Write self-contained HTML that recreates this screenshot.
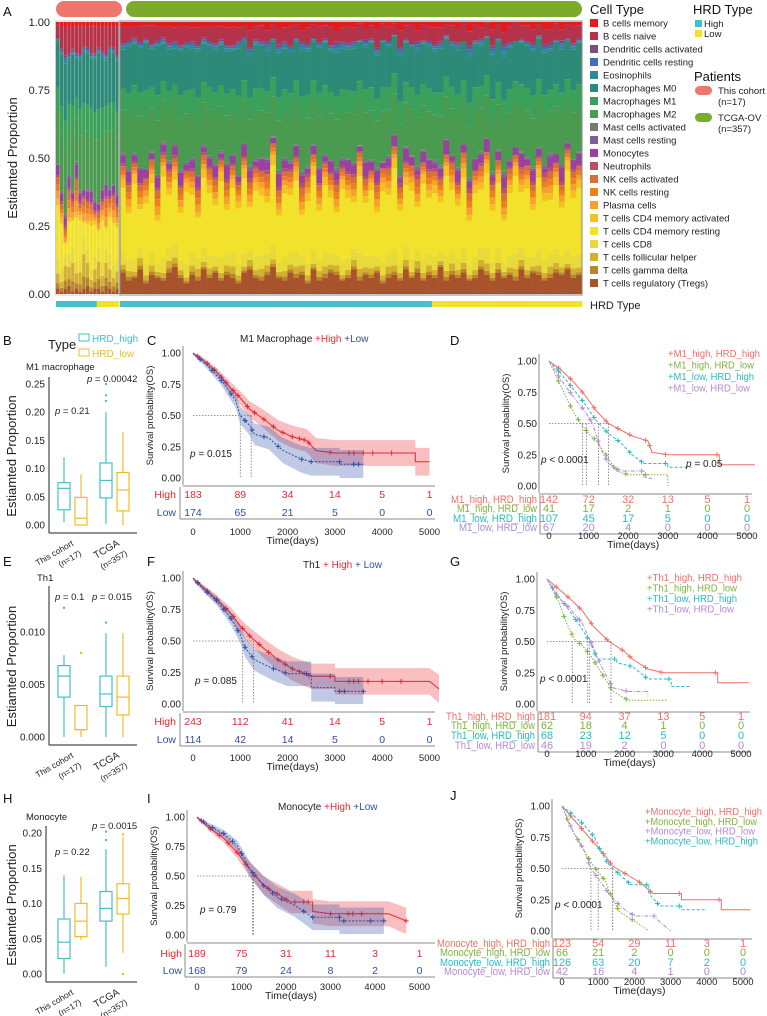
<!DOCTYPE html>
<html><head><meta charset="utf-8">
<style>
html,body{margin:0;padding:0;background:#fff;}
svg{display:block;font-family:"Liberation Sans",Arial,sans-serif;}
</style></head>
<body>
<svg id="fig" width="767" height="1016" viewBox="0 0 767 1016" xmlns="http://www.w3.org/2000/svg"></svg>
<script>
// ===== Panel A data =====
const cellTypes=["B cells memory","B cells naive","Dendritic cells activated","Dendritic cells resting","Eosinophils","Macrophages M0","Macrophages M1","Macrophages M2","Mast cells activated","Mast cells resting","Monocytes","Neutrophils","NK cells activated","NK cells resting","Plasma cells","T cells CD4 memory activated","T cells CD4 memory resting","T cells CD8","T cells follicular helper","T cells gamma delta","T cells regulatory (Tregs)"];
const cellColors=["#e41a1c","#b5334a","#7a4f7a","#3f6fb5","#2f8b9a","#2e8a78","#3aa05a","#4a9a50","#6f8070","#7a5f9a","#9b3fa0","#b8506a","#d9703a","#f07f20","#f5a030","#f5c020","#f2e22c","#e8da3a","#d4b030","#b8862a","#a8532c"];
const cohortTreg=[.02,.01,.02,.03,.01,.02,.01,.02,.03,.01,.02,.02,.01,.03,.02,.01,.02];
const cohortLow=[.08,.05,.12,.1,.15,.08,.1,.18,.12,.06,.1,.14,.08,.12,.1,.07,.09];
const cohortCd4=[.25,.22,.05,.15,.12,.2,.18,.07,.12,.2,.15,.08,.2,.1,.18,.2,.15];
const cohortOrange=[.08,.05,.05,.1,.06,.12,.04,.08,.07,.06,.03,.06,.05,.1,.05,.08,.06];
const cohortMono=[.04,.03,.03,.04,.02,.05,.03,.02,.03,.04,.03,.02,.03,.04,.02,.03,.03];
const cohortMac=[.45,.5,.55,.42,.5,.38,.48,.5,.5,.48,.52,.55,.48,.45,.5,.48,.48];
const cohortBn=[.05,.08,.1,.1,.08,.1,.1,.07,.08,.1,.1,.08,.09,.1,.07,.08,.1];
const cohortHRD=["H","H","H","H","H","H","H","H","H","H","H","L","L","L","L","L","L"];
const tcgaTreg=[.08,.05,.06,.09,.04,.07,.06,.05,.08,.1,.06,.04,.07,.05,.09,.06,.08,.05,.07,.06,.04,.08,.09,.06,.05,.07,.1,.06,.05,.08,.06,.07,.04,.09,.05,.06,.08,.07,.05,.06,.09,.05,.07,.06,.08,.04,.06,.07,.05,.09,.06,.08,.05,.07,.06,.1,.05,.07,.06,.08,.05,.06,.09,.07,.05,.08,.06,.07,.05,.09,.06,.08,.07,.05,.06,.08,.07,.09,.06,.07];
const tcgaLow=[.04,.05,.03,.06,.04,.05,.03,.04,.06,.05,.04,.03,.05,.06,.04,.05,.03,.04,.05,.06,.04,.03,.05,.04,.06,.05,.04,.03,.05,.04,.06,.05,.04,.03,.05,.06,.04,.05,.03,.04,.05,.06,.04,.05,.03,.04,.06,.05,.04,.05,.03,.06,.04,.05,.04,.03,.05,.06,.04,.05,.03,.04,.05,.06,.04,.05,.03,.04,.06,.05,.04,.03,.05,.04,.06,.05,.04,.03,.05,.04];
const tcgaCd4=[.3,.22,.35,.18,.28,.32,.2,.38,.25,.3,.22,.34,.27,.19,.33,.29,.24,.36,.21,.3,.26,.35,.2,.31,.28,.24,.37,.22,.3,.27,.33,.19,.29,.35,.23,.31,.26,.2,.34,.28,.22,.36,.25,.3,.21,.33,.27,.38,.24,.29,.32,.2,.35,.26,.3,.23,.37,.28,.25,.33,.21,.3,.27,.35,.24,.31,.2,.29,.36,.26,.32,.22,.34,.28,.25,.3,.23,.37,.27,.31];
const tcgaOrange=[.05,.08,.04,.07,.06,.05,.09,.04,.06,.05,.07,.04,.06,.08,.05,.06,.07,.04,.08,.05,.06,.04,.07,.05,.06,.08,.04,.07,.05,.06,.05,.08,.06,.04,.07,.05,.06,.08,.04,.06,.07,.05,.06,.04,.08,.05,.07,.04,.06,.05,.06,.08,.04,.07,.05,.06,.04,.07,.05,.06,.08,.05,.06,.04,.07,.05,.08,.06,.04,.06,.05,.07,.04,.06,.08,.05,.06,.04,.07,.05];
const tcgaMono=[.03,.04,.02,.05,.03,.02,.04,.03,.02,.03,.05,.02,.03,.04,.02,.03,.04,.02,.05,.03,.02,.04,.03,.02,.04,.03,.02,.05,.03,.02,.04,.03,.02,.03,.05,.02,.04,.03,.02,.04,.03,.02,.05,.03,.04,.02,.03,.04,.02,.05,.03,.02,.04,.03,.02,.03,.05,.02,.04,.03,.02,.04,.03,.05,.02,.03,.04,.02,.03,.05,.02,.04,.03,.02,.04,.03,.05,.02,.03,.04];
const tcgaMac=[.38,.45,.4,.44,.46,.38,.47,.36,.41,.35,.44,.42,.4,.45,.37,.4,.42,.39,.41,.38,.46,.37,.4,.42,.41,.39,.35,.43,.4,.4,.38,.44,.42,.38,.44,.41,.4,.42,.4,.4,.42,.38,.41,.43,.41,.44,.4,.36,.43,.38,.4,.42,.39,.41,.4,.43,.37,.4,.43,.38,.44,.42,.39,.37,.43,.4,.42,.41,.39,.4,.41,.42,.4,.41,.37,.41,.42,.37,.4,.4];
const tcgaBn=[.06,.05,.04,.06,.05,.07,.05,.04,.06,.05,.07,.06,.05,.06,.04,.05,.06,.05,.06,.07,.05,.04,.06,.05,.06,.04,.05,.06,.05,.07,.05,.04,.06,.05,.06,.05,.07,.04,.05,.06,.05,.06,.04,.05,.07,.06,.05,.04,.06,.05,.07,.04,.06,.05,.06,.05,.04,.06,.05,.07,.05,.06,.04,.05,.06,.05,.04,.06,.07,.05,.06,.05,.04,.06,.05,.06,.04,.05,.06,.05];
const tcgaLowStart=54; // index where HRD_low begins in TCGA group
const yTicksA=[0,.25,.5,.75,1];

// ===== Boxplot data: [min, q1, median, q3, max] =====
const boxB_high=[[.005,.027,.065,.075,.12],[.002,.048,.079,.11,.20]];
const boxB_low=[[0,0,.012,.049,.09],[0,.025,.062,.093,.165]];
const boxB_highOut=[[],[.22,.23,.25]];
const boxB_lowOut=[[],[]];
const boxB_ticks=[0,.05,.1,.15,.2,.25];
const boxE_high=[[0,.0038,.0058,.0068,.0078],[0,.0029,.0041,.0058,.0099]];
const boxE_low=[[0,.0007,.0007,.003,.003],[0,.0021,.0038,.0058,.0099]];
const boxE_highOut=[[.0123],[.0109]];
const boxE_lowOut=[[.008],[]];
const boxE_ticks=[0,.005,.01];
const boxH_high=[[0,.022,.045,.078,.14],[.01,.075,.093,.117,.177]];
const boxH_low=[[.048,.053,.075,.1,.138],[.03,.085,.107,.128,.195]];
const boxH_highOut=[[],[.19,.202]];
const boxH_lowOut=[[],[0,.198]];
const boxH_ticks=[0,.05,.1,.15,.2];

// ===== KM data =====
const kmTicks=[0,1000,2000,3000,4000,5000];
const survTicks=[0,.25,.5,.75,1];
const C_highT=[0,200,500,800,1000,1200,1500,1800,2100,2400,2600,3000,4700,5000];
const C_highS=[1,.95,.85,.72,.64,.55,.47,.38,.33,.30,.22,.20,.13,.13];
const C_highCens=[100,300,450,600,700,850,950,1150,1300,1500,1700,1900,2100,2250,2350,2450,2900,3300,3400,3600,3800,4200];
const C_lowT=[0,300,600,900,1000,1200,1300,1600,1900,2300,2500,3100,3600];
const C_lowS=[1,.9,.78,.62,.5,.42,.35,.32,.22,.15,.13,.11,.11];
const C_lowCens=[150,400,600,800,1100,1250,1500,1800,2300,2500,3100,3400,3500];
const C_risk=[[183,89,34,14,5,1],[174,65,21,5,0,0]];
const F_highT=[0,200,500,800,1000,1200,1500,1800,2100,2500,3000,5000,5200];
const F_highS=[1,.93,.83,.72,.62,.54,.44,.35,.28,.22,.18,.18,.12];
const F_highCens=[100,300,500,700,850,1050,1200,1400,1600,1800,1950,2100,2250,2350,2450,2900,3300,3400,3500,3700,4000,4400];
const F_lowT=[0,200,500,800,1000,1100,1300,1700,2000,2500,3000,3600];
const F_lowS=[1,.92,.82,.68,.55,.45,.35,.28,.24,.13,.1,.1];
const F_lowCens=[100,300,500,650,800,950,1100,1250,1700,1950,2400,3100,3200,3600];
const F_risk=[[243,112,41,14,5,1],[114,42,14,5,0,0]];
const I_highT=[0,300,600,900,1200,1500,1800,2100,2600,3000,4300,4700];
const I_highS=[1,.9,.82,.7,.55,.42,.35,.28,.2,.18,.18,.12];
const I_highCens=[100,300,500,700,900,1100,1300,1600,1800,2000,2200,2400,2500,3000,3400,3500,3700,4700];
const I_lowT=[0,300,600,900,1200,1500,1800,2200,2600,3200,4200];
const I_lowS=[1,.92,.86,.76,.55,.42,.32,.25,.15,.12,.12];
const I_lowCens=[150,350,600,800,1000,1250,1500,1700,1900,2400,2600,3200,3300,3900,4200];
const I_risk=[[189,75,31,11,3,1],[168,79,24,8,2,0]];

const D_hhT=[0,300,600,900,1200,1500,1800,2100,2500,2600,3000,4300,5200];
const D_hhS=[1,.93,.84,.73,.6,.5,.45,.4,.36,.27,.25,.17,.17];
const D_hlT=[0,300,600,800,1000,1200,1500,1700,2000,2500,3000];
const D_hlS=[1,.8,.6,.5,.42,.36,.22,.12,.09,.09,0];
const D_lhT=[0,300,600,900,1200,1500,1800,2100,2400,3000,3600];
const D_lhS=[1,.9,.78,.66,.52,.42,.35,.25,.18,.15,.15];
const D_llT=[0,300,600,900,1100,1300,1500,1800,2400,2600];
const D_llS=[1,.85,.72,.6,.5,.3,.18,.12,.07,.06];
const D_risk=[[142,72,32,13,5,1],[41,17,2,1,0,0],[107,45,17,5,0,0],[67,20,4,0,0,0]];
const D_rows=["M1_high, HRD_high","M1_high, HRD_low","M1_low, HRD_high","M1_low, HRD_low"];
const G_hhT=[0,300,600,900,1200,1600,2000,2200,2600,3000,4400,5200];
const G_hhS=[1,.92,.84,.75,.62,.5,.42,.36,.28,.25,.17,.17];
const G_hlT=[0,300,500,700,900,1100,1300,1500,1700,2100,3100];
const G_hlS=[1,.82,.65,.52,.47,.4,.3,.2,.1,.03,.03];
const G_lhT=[0,200,500,800,1100,1300,1800,2200,2600,3200,3700];
const G_lhS=[1,.9,.78,.65,.5,.36,.33,.3,.2,.14,.14];
const G_llT=[0,300,600,900,1200,1400,1700,2100,2600];
const G_llS=[1,.85,.76,.65,.45,.3,.13,.1,.06];
const G_risk=[[181,94,37,13,5,1],[62,18,4,1,0,0],[68,23,12,5,0,0],[46,19,2,0,0,0]];
const G_rows=["Th1_high, HRD_high","Th1_high, HRD_low","Th1_low, HRD_high","Th1_low, HRD_low"];
const J_hhT=[0,300,600,900,1200,1400,1800,2200,2500,3300,4400,5200];
const J_hhS=[1,.9,.8,.7,.6,.52,.45,.38,.3,.25,.17,.17];
const J_hlT=[0,200,500,800,1000,1200,1400,1600,2000,2400];
const J_hlS=[1,.85,.7,.55,.47,.4,.25,.15,.08,0];
const J_lhT=[0,300,600,900,1100,1300,1600,1900,2400,2700,3300,4000];
const J_lhS=[1,.93,.85,.75,.62,.53,.45,.37,.3,.2,.17,.17];
const J_llT=[0,300,600,800,1000,1300,1600,2000,2600,3000];
const J_llS=[1,.8,.65,.5,.42,.3,.2,.12,.1,0];
const J_risk=[[123,54,29,11,3,1],[66,21,2,0,0,0],[126,63,20,7,2,0],[42,16,4,1,0,0]];
const J_rows=["Monocyte_high, HRD_high","Monocyte_high, HRD_low","Monocyte_low, HRD_high","Monocyte_low, HRD_low"];
const J_legend=["Monocyte_high, HRD_high","Monocyte_high, HRD_low","Monocyte_low, HRD_low","Monocyte_low, HRD_high"];

const NS="http://www.w3.org/2000/svg";
const fig=document.getElementById('fig');
function el(tag,attrs,parent){const e=document.createElementNS(NS,tag);for(const k in attrs)e.setAttribute(k,attrs[k]);(parent||fig).appendChild(e);return e;}
function txt(x,y,s,size,fill,anchor,parent,extra){const e=el('text',{x:x,y:y,'font-size':size,fill:fill||'#222','text-anchor':anchor||'start'},parent);if(extra)for(const k in extra)e.setAttribute(k,extra[k]);e.textContent=s;return e;}

// ===== Panel A =====
const gA=el('g',{});


const aTop=22,aBot=294;
const yA=v=>aBot-v*(aBot-aTop);
let t=txt(3,16,'A',13,'#111','start',gA);


let pc=el('rect',{x:56,y:1,width:66,height:16,rx:8,fill:'#ee766d'},gA);


let pt=el('rect',{x:126,y:1,width:456,height:16,rx:8,fill:'#7caa2d'},gA);


yTicksA.forEach(v=>{const l=txt(50,yA(v)+4,v.toFixed(2),11,'#222','end',gA);

});
let yl=txt(0,0,'Estiamted Proportion',13,'#222','middle',gA,{transform:'translate(17,158) rotate(-90)'});


function barFracs(tr,lo,cd,or,mo,mac,bn){
  const f=new Array(21).fill(0);
  f[20]=tr; f[19]=lo*.25; f[18]=lo*.45; f[17]=lo*.3+cd*.12; f[16]=cd*.78; f[15]=cd*.1;
  f[14]=or*.35; f[13]=or*.3; f[12]=or*.35; f[10]=mo;
  f[7]=mac*.42; f[6]=mac*.2; f[5]=mac*.38; f[1]=bn;
  let rest=Math.max(0,1-f.reduce((a,b)=>a+b,0));
  f[0]=rest*.3; f[2]=rest*.12; f[3]=rest*.1; f[4]=rest*.15; f[8]=rest*.1; f[9]=rest*.08; f[11]=rest*.15;
  return f;
}
function drawGroup(x0,x1,arrs){
  const n=arrs[0].length,w=(x1-x0)/n;
  for(let i=0;i<n;i++){
    const f=barFracs(arrs[0][i],arrs[1][i],arrs[2][i],arrs[3][i],arrs[4][i],arrs[5][i],arrs[6][i]);
    let cum=0;
    for(let k=20;k>=0;k--){
      const h=f[k]*(aBot-aTop);
      const r=el('rect',{x:(x0+i*w).toFixed(2),y:(yA(cum)-h).toFixed(2),width:(w+0.3).toFixed(2),height:Math.max(0,h).toFixed(2),fill:cellColors[k]},gA);
      
      
      cum+=f[k];
    }
  }
}
drawGroup(56,119,[cohortTreg,cohortLow,cohortCd4,cohortOrange,cohortMono,cohortMac,cohortBn]);
drawGroup(120,582,[tcgaTreg,tcgaLow,tcgaCd4,tcgaOrange,tcgaMono,tcgaMac,tcgaBn]);
for(let i=1;i<17;i++){const ln=el('line',{x1:56+i*63/17,x2:56+i*63/17,y1:aTop,y2:aBot,stroke:'#fff','stroke-opacity':.45,'stroke-width':.6},gA);

}
let f1=el('rect',{x:55.5,y:aTop-1,width:63.5,height:aBot-aTop+2,fill:'none',stroke:'#ccc'},gA);


let f2=el('rect',{x:120,y:aTop-1,width:462,height:aBot-aTop+2,fill:'none',stroke:'#888'},gA);


cohortHRD.forEach((h,i)=>{const r=el('rect',{x:56+i*63/17,y:301,width:63/17+0.3,height:6,fill:h==='H'?'#45c0c8':'#f2e22c'},gA);

});
tcgaTreg.forEach((_,i)=>{const w=462/tcgaTreg.length;const r=el('rect',{x:120+i*w,y:301,width:w+0.3,height:6,fill:i<tcgaLowStart?'#45c0c8':'#f2e22c'},gA);

});
let hl=txt(590,309,'HRD Type',11,'#222','start',gA);


// Legend
const gL=el('g',{});


txt(590,14,'Cell Type',13,'#111','start',gL);
cellTypes.forEach((c,i)=>{const y=19+i*13;
const s=el('rect',{x:590,y:y,width:8,height:8,fill:cellColors[i]},gL);


const l=txt(603,y+7.5,c,9.5,'#222','start',gL);

});
txt(693,14,'HRD Type',13,'#111','start',gL);
el('rect',{x:695,y:20,width:7,height:7,fill:'#45c0c8'},gL);
txt(704,27,'High',9.5,'#222','start',gL);
el('rect',{x:695,y:30,width:7,height:7,fill:'#f2e22c'},gL);
txt(704,37,'Low',9.5,'#222','start',gL);
txt(694,81,'Patients',13,'#111','start',gL);
el('rect',{x:695,y:86,width:17,height:9,rx:4.5,fill:'#ee766d'},gL);
txt(718,94,'This cohort',9.5,'#222','start',gL);
txt(718,105,'(n=17)',9.5,'#222','start',gL);
el('rect',{x:695,y:113,width:17,height:9,rx:4.5,fill:'#7caa2d'},gL);
txt(718,121,'TCGA-OV',9.5,'#222','start',gL);
txt(718,132,'(n=357)',9.5,'#222','start',gL);

// ===== Boxplots =====
function boxPanel(cfg){
  const g=el('g',{});
  
  
  const Y=v=>cfg.y0-(v/cfg.vmax)*(cfg.y0-cfg.yMaxPx);
  txt(3,cfg.letterY,cfg.letter,13,'#111','start',g);
  txt(cfg.titleX,cfg.titleY,cfg.title,9.5,'#222','start',g);
  el('line',{x1:cfg.ax,x2:cfg.ax,y1:cfg.top,y2:cfg.y0+8,stroke:'#222','stroke-width':1},g);
  el('line',{x1:cfg.ax,x2:137,y1:cfg.y0+8,y2:cfg.y0+8,stroke:'#222','stroke-width':1},g);
  cfg.ticks.forEach(v=>{txt(cfg.ax-4,Y(v)+3.5,v.toFixed(cfg.dec),10,'#222','end',g);});
  txt(0,0,'Estiamted Proportion',13,'#222','middle',g,{transform:`translate(16,${(cfg.top+cfg.y0)/2+5}) rotate(-90)`});
  const cx=[[64,81],[106,123]];
  [cfg.high,cfg.low].forEach((arr,si)=>{
    const col=si===0?'#45c0c8':'#eebc2a';
    arr.forEach((b,ci)=>{
      const x=cx[ci][si],w=12;
      const bx=el('g',{},g);
      
      
      el('line',{x1:x,x2:x,y1:Y(b[0]),y2:Y(b[1]),stroke:col,'stroke-width':1.2},bx);
      el('line',{x1:x,x2:x,y1:Y(b[3]),y2:Y(b[4]),stroke:col,'stroke-width':1.2},bx);
      el('rect',{x:x-w/2,y:Y(b[3]),width:w,height:Y(b[1])-Y(b[3]),fill:'#fff',stroke:col,'stroke-width':1.2},bx);
      el('line',{x1:x-w/2,x2:x+w/2,y1:Y(b[2]),y2:Y(b[2]),stroke:col,'stroke-width':1.2},bx);
      (si===0?cfg.highOut:cfg.lowOut)[ci].forEach(o=>el('circle',{cx:x,cy:Y(o),r:1.2,fill:col},bx));
    });
  });
  const lx=[[62,'This cohort','(n=17)'],[108,'TCGA','(n=357)']];
  lx.forEach(l=>{
    txt(0,0,l[1],l[1]==='TCGA'?10:8.5,'#222','end',g,{transform:`translate(${l[0]+12},${cfg.y0+20}) rotate(-30)`});
    txt(0,0,l[2],8.5,'#222','end',g,{transform:`translate(${l[0]+20},${cfg.y0+30}) rotate(-30)`});
  });
  cfg.p.forEach(p=>{const e=txt(p[0],p[1],'',9.5,'#222','start',g);e.innerHTML='<tspan font-style="italic">p</tspan> = '+p[2];});
  return g;
}
boxPanel({name:'panel-b-boxplot',letter:'B',letterY:345,title:'M1 macrophage',titleX:26,titleY:370,ax:49,top:377,y0:525,yMaxPx:384,vmax:.25,ticks:boxB_ticks,dec:2,high:boxB_high,low:boxB_low,highOut:boxB_highOut,lowOut:boxB_lowOut,p:[[55,414,'0.21'],[87,382,'0.00042']]});
boxPanel({name:'panel-e-boxplot',letter:'E',letterY:566,title:'Th1',titleX:37,titleY:581,ax:49,top:586,y0:737,yMaxPx:632,vmax:.01,ticks:boxE_ticks,dec:3,high:boxE_high,low:boxE_low,highOut:boxE_highOut,lowOut:boxE_lowOut,p:[[55,600,'0.1'],[92,600,'0.015']]});
boxPanel({name:'panel-h-boxplot',letter:'H',letterY:803,title:'Monocyte',titleX:26,titleY:820,ax:46,top:826,y0:974,yMaxPx:833,vmax:.2,ticks:boxH_ticks,dec:2,high:boxH_high,low:boxH_low,highOut:boxH_highOut,lowOut:boxH_lowOut,p:[[55,855,'0.22'],[92,829,'0.0015']]});
const gBL=el('g',{});


txt(48,349,'Type',13,'#222','start',gBL);
el('rect',{x:79,y:334,width:10,height:7,fill:'none',stroke:'#45c0c8'},gBL);
txt(92,342,'HRD_high',10,'#45c0c8','start',gBL);
el('rect',{x:79,y:349,width:10,height:7,fill:'none',stroke:'#eebc2a'},gBL);
txt(92,357,'HRD_low',10,'#eebc2a','start',gBL);

// ===== KM =====
// smooth-ish rendering: short gaps drawn as slopes (dense small steps), long gaps as flat hold + drop
function curvePts(T,S){const p=[[T[0],S[0]]];for(let i=1;i<T.length;i++){if(T[i]-T[i-1]>450){p.push([T[i],S[i-1]]);}p.push([T[i],S[i]]);}return p;}
function sAt(T,S,t){const p=curvePts(T,S);for(let i=1;i<p.length;i++){if(t<=p[i][0]){const a=p[i-1],b=p[i];const f=b[0]===a[0]?1:(t-a[0])/(b[0]-a[0]);return a[1]+(b[1]-a[1])*f;}}return p[p.length-1][1];}
function kmPanel(cfg){
  const g=el('g',{});
  
  
  const X=t=>cfg.x0+t*cfg.kx/1000, Y=s=>cfg.yB-s*(cfg.yB-cfg.yT);
  txt(cfg.letterX,cfg.letterY,cfg.letter,13,'#111','start',g);
  el('line',{x1:cfg.x0-10,x2:cfg.x0-10,y1:cfg.yT-7,y2:cfg.yB+7,stroke:'#888'},g);
  el('line',{x1:cfg.x0-10,x2:cfg.xEnd,y1:cfg.yB+8,y2:cfg.yB+8,stroke:'#888'},g);
  survTicks.forEach(v=>txt(cfg.x0-12,Y(v)+3.5,v.toFixed(2),10,'#222','end',g));
  txt(0,0,'Survival probability(OS)',9.5,'#222','middle',g,{transform:`translate(${cfg.x0-40},${(cfg.yT+cfg.yB)/2}) rotate(-90)`});
  cfg.curves.forEach(c=>{
    const cg=el('g',{},g);
    
    
    const pts=curvePts(c.T,c.S);
    if(c.band){
      const up=pts.map(p=>[X(p[0]),Y(Math.min(1,p[1]+.015+.11*(1-p[1])))]);
      const lo=pts.map(p=>[X(p[0]),Y(Math.max(0,p[1]-.015-.11*(1-p[1])))]).reverse();
      el('polygon',{points:up.concat(lo).map(p=>p.join(',')).join(' '),fill:c.color,'fill-opacity':.3,stroke:'none'},cg);
    }
    el('polyline',{points:pts.map(p=>X(p[0])+','+Y(p[1])).join(' '),fill:'none',stroke:c.color,'stroke-width':1,'stroke-dasharray':c.dash||''},cg);
    (c.cens||c.T.slice(1,-1).map((v,i)=>v-60)).forEach(tc=>{const x=X(tc),y=Y(sAt(c.T,c.S,tc));
      el('path',{d:`M${x-2.5},${y}H${x+2.5}M${x},${y-2.5}V${y+2.5}`,stroke:c.color,'stroke-width':1},cg);});
  });
  const meds=cfg.medians.map(m=>X(m));
  el('line',{x1:cfg.x0,x2:Math.max(...meds),y1:Y(.5),y2:Y(.5),stroke:'#777','stroke-dasharray':'1.5,1.5','stroke-width':.8},g);
  meds.forEach(x=>el('line',{x1:x,x2:x,y1:Y(.5),y2:cfg.yB,stroke:'#777','stroke-dasharray':'1.5,1.5','stroke-width':.8},g));
  cfg.ps.forEach(p=>{const e=txt(p[0],p[1],'',10,'#222','start',g);e.innerHTML='<tspan font-style="italic">p</tspan> '+p[2];});
  const rg=el('g',{},g);
  
  
  const last=cfg.rowY[cfg.rowY.length-1];
  el('line',{x1:cfg.tableLineX,x2:cfg.tableLineX,y1:cfg.yB+9,y2:last+7,stroke:'#888'},rg);
  el('line',{x1:cfg.tableLineX,x2:cfg.xEnd,y1:last+7,y2:last+7,stroke:'#888'},rg);
  cfg.risk.forEach((row,ri)=>{
    const lab=txt(cfg.rowLabelX,cfg.rowY[ri]+4,cfg.rows[ri],cfg.rowFont,cfg.colors[ri],cfg.rowAnchor,rg);
    if(cfg.rowLen){lab.setAttribute('textLength',cfg.rowLen[ri]);lab.setAttribute('lengthAdjust','spacingAndGlyphs');}
    row.forEach((v,i)=>txt(X(kmTicks[i]),cfg.rowY[ri]+4,String(v),cfg.rowFont,cfg.colors[ri],'middle',rg));
  });
  kmTicks.forEach(v=>txt(X(v),cfg.tickY,String(v),9.5,'#222','middle',g));
  txt(X(2000)+5,cfg.tickY+9,'Time(days)',10.5,'#222','middle',g);
  if(cfg.legend){cfg.legend.forEach((l,i)=>{const e=txt(cfg.legX,cfg.legY+i*cfg.legStep,'+'+l,10,cfg.colors[cfg.legColorIdx?cfg.legColorIdx[i]:i],'start',g);
    e.setAttribute('textLength',cfg.legLen[i]);e.setAttribute('lengthAdjust','spacingAndGlyphs');});}
  if(cfg.title){const e=txt(cfg.title[0],cfg.title[1],'',10,'#222','start',g);e.innerHTML=cfg.title[2];}
  return g;
}
const red='#e8282e',blue='#2f4fa8',kr='#f07068',kg='#7db53a',kc='#27bcc4',kp='#b28ad8';
kmPanel({name:'panel-c-km',letter:'C',letterX:147,letterY:345,x0:193,kx:47.3,yT:353,yB:478,xEnd:435,
 curves:[{name:'curve-high',T:C_highT,S:C_highS,cens:C_highCens,color:red,band:1},{name:'curve-low',T:C_lowT,S:C_lowS,cens:C_lowCens,color:blue,band:1,dash:'2,1.5'}],
 medians:[1000,1230],ps:[[190,457,'= 0.015']],risk:C_risk,rows:['High','Low'],colors:[red,blue],rowY:[494,512],rowLabelX:176,rowAnchor:'end',rowFont:10.5,tableLineX:180,tickY:535,
 title:[240,342,'M1 Macrophage <tspan fill="#e8282e">+High</tspan> <tspan fill="#2f4fa8">+Low</tspan>']});
kmPanel({name:'panel-f-km',letter:'F',letterX:147,letterY:566,x0:193,kx:47.3,yT:578,yB:704,xEnd:435,
 curves:[{name:'curve-high',T:F_highT,S:F_highS,cens:F_highCens,color:red,band:1},{name:'curve-low',T:F_lowT,S:F_lowS,cens:F_lowCens,color:blue,band:1,dash:'2,1.5'}],
 medians:[1050,1280],ps:[[195,684,'= 0.085']],risk:F_risk,rows:['High','Low'],colors:[red,blue],rowY:[721,739],rowLabelX:176,rowAnchor:'end',rowFont:10.5,tableLineX:180,tickY:761,
 title:[303,568,'Th1 <tspan fill="#e8282e">+ High</tspan> <tspan fill="#2f4fa8">+ Low</tspan>']});
kmPanel({name:'panel-i-km',letter:'I',letterX:147,letterY:803,x0:197,kx:44.5,yT:817,yB:935,xEnd:435,
 curves:[{name:'curve-high',T:I_highT,S:I_highS,cens:I_highCens,color:red,band:1},{name:'curve-low',T:I_lowT,S:I_lowS,cens:I_lowCens,color:blue,band:1,dash:'2,1.5'}],
 medians:[1250,1270],ps:[[200,913,'= 0.79']],risk:I_risk,rows:['High','Low'],colors:[red,blue],rowY:[953,970],rowLabelX:182,rowAnchor:'end',rowFont:10.5,tableLineX:185,tickY:990,
 title:[278,810,'Monocyte <tspan fill="#e8282e">+High</tspan> <tspan fill="#2f4fa8">+Low</tspan>']});
kmPanel({name:'panel-d-km',letter:'D',letterX:450,letterY:345,x0:549,kx:39.6,yT:361,yB:486,xEnd:752,
 curves:[{name:'curve-m1high-hrdhigh',T:D_hhT,S:D_hhS,color:kr},{name:'curve-m1high-hrdlow',T:D_hlT,S:D_hlS,color:kg,dash:'1.5,1.5'},{name:'curve-m1low-hrdhigh',T:D_lhT,S:D_lhS,color:kc,dash:'3,2'},{name:'curve-m1low-hrdlow',T:D_llT,S:D_llS,color:kp,dash:'4,1.5,1,1.5'}],
 medians:[850,950,1250,1500],ps:[[541,463,'< 0.0001'],[686,467,'= 0.05']],risk:D_risk,rows:D_rows,colors:[kr,kg,kc,kp],rowY:[499,508,518,527],rowLabelX:537,rowAnchor:'end',rowFont:11,rowLen:[86,80,84,78],tableLineX:540,tickY:539,
 legend:D_rows,legX:668,legY:357,legStep:11.5,legLen:[92,86,86,82]});
kmPanel({name:'panel-g-km',letter:'G',letterX:450,letterY:566,x0:547,kx:38.8,yT:579,yB:704,xEnd:750,
 curves:[{name:'curve-th1high-hrdhigh',T:G_hhT,S:G_hhS,color:kr},{name:'curve-th1high-hrdlow',T:G_hlT,S:G_hlS,color:kg,dash:'1.5,1.5'},{name:'curve-th1low-hrdhigh',T:G_lhT,S:G_lhS,color:kc,dash:'3,2'},{name:'curve-th1low-hrdlow',T:G_llT,S:G_llS,color:kp,dash:'4,1.5,1,1.5'}],
 medians:[650,1050,1100,1650],ps:[[540,682,'< 0.0001']],risk:G_risk,rows:G_rows,colors:[kr,kg,kc,kp],rowY:[716,725,735,745],rowLabelX:535,rowAnchor:'end',rowFont:11,rowLen:[89,84,84,80],tableLineX:538,tickY:757,
 legend:G_rows,legX:647,legY:581,legStep:10.5,legLen:[95,90,90,87]});
kmPanel({name:'panel-j-km',letter:'J',letterX:450,letterY:800,x0:562,kx:36.2,yT:806,yB:931,xEnd:752,
 curves:[{name:'curve-monohigh-hrdhigh',T:J_hhT,S:J_hhS,color:kr},{name:'curve-monohigh-hrdlow',T:J_hlT,S:J_hlS,color:kg,dash:'1.5,1.5'},{name:'curve-monolow-hrdhigh',T:J_lhT,S:J_lhS,color:kc,dash:'3,2'},{name:'curve-monolow-hrdlow',T:J_llT,S:J_llS,color:kp,dash:'4,1.5,1,1.5'}],
 medians:[800,1000,1400,1400],ps:[[555,908,'< 0.0001']],risk:J_risk,rows:J_rows,colors:[kr,kg,kc,kp],rowY:[943,952,962,971],rowLabelX:550,rowAnchor:'end',rowFont:11,rowLen:[113,110,110,106],tableLineX:553,tickY:985,
 legend:J_legend,legColorIdx:[0,1,3,2],legX:645,legY:815,legStep:9.8,legLen:[117,112,110,113]});
</script>
</body></html>
